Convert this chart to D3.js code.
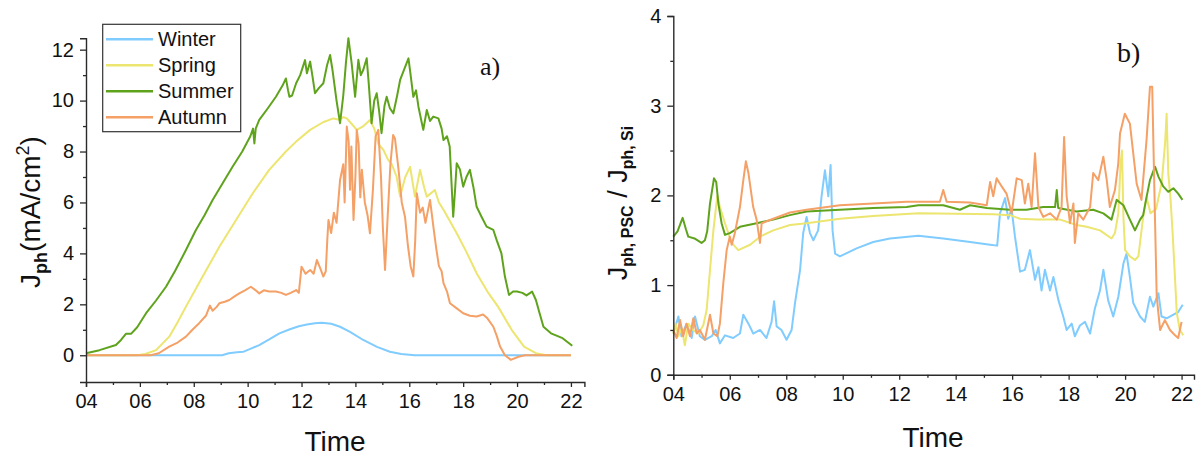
<!DOCTYPE html>
<html><head><meta charset="utf-8">
<script src="https://cdn.jsdelivr.net/npm/d3@7"></script>
<style>
html,body{margin:0;padding:0;background:#fff;}
svg{display:block;}
text{font-family:"Liberation Sans",Arial,sans-serif;fill:#111;}
</style></head>
<body>
<script>
// ---------- DATA ----------
const seriesNames = ["Winter","Spring","Summer","Autumn"];
const seriesColors = ["#80ccff","#ece56f","#5fa31d","#f4a066"];
const xTickHours = [4,6,8,10,12,14,16,18,20,22];
const xMinorHours = [5,7,9,11,13,15,17,19,21];
const yTicksA = [0,2,4,6,8,10,12];
const yMinorA = [1,3,5,7,9,11];
const yTicksB = [0,1,2,3,4];
const yMinorB = [0.5,1.5,2.5,3.5];

// Panel a) : J_ph (mA/cm2) vs time  [hour, value]
const winterA = [[4,0],[9.05,0],[9.3,0.08],[9.6,0.12],[9.85,0.14],[10.1,0.25],[10.43,0.4],[10.8,0.62],[11.18,0.86],[11.57,1.02],[11.9,1.14],[12.2,1.21],[12.5,1.26],[12.75,1.28],[13.1,1.24],[13.43,1.12],[13.8,0.92],[14.29,0.6],[14.8,0.33],[15.28,0.14],[15.7,0.05],[16.2,0],[22,0]];
const springA = [[4,0],[5.9,0],[6.2,0.05],[6.6,0.2],[7.09,0.73],[7.4,1.3],[7.71,1.91],[8.33,3.09],[8.95,4.26],[9.57,5.31],[10.19,6.36],[10.8,7.28],[11.42,8.0],[11.8,8.39],[12.32,8.85],[12.8,9.15],[13.18,9.3],[13.4,9.25],[13.55,9.35],[13.68,9.3],[13.85,9.1],[14.05,8.85],[14.3,9.0],[14.54,9.24],[14.7,8.9],[14.85,8.3],[15.04,8.06],[15.2,7.7],[15.35,7.5],[15.53,7.01],[15.66,6.23],[15.85,7.0],[16.03,7.4],[16.21,6.23],[16.4,7.28],[16.55,6.6],[16.65,6.23],[16.95,6.49],[17.1,6.0],[17.27,5.71],[17.76,4.79],[18.1,4.1],[18.5,3.22],[18.9,2.5],[19.3,1.9],[19.8,1.0],[20.26,0.34],[20.7,0.08],[21.1,0],[22,0]];
const summerA = [[4,0.08],[4.5,0.2],[5.11,0.4],[5.3,0.6],[5.48,0.84],[5.67,0.84],[5.9,1.1],[6.23,1.65],[6.6,2.15],[6.97,2.69],[7.3,3.3],[7.71,4.13],[8.08,4.92],[8.4,5.5],[8.7,6.1],[9.1,6.8],[9.44,7.4],[9.8,8.0],[10.1,8.6],[10.2,8.9],[10.25,8.32],[10.3,8.9],[10.43,9.24],[10.75,9.7],[11.05,10.15],[11.3,10.6],[11.42,10.87],[11.5,10.4],[11.55,10.15],[11.65,10.2],[11.8,10.68],[11.95,11.0],[12.13,11.59],[12.2,11.07],[12.32,11.53],[12.4,11.0],[12.5,10.29],[12.65,10.5],[12.81,10.68],[12.95,11.4],[13.06,11.79],[13.15,11.2],[13.3,10.0],[13.43,9.11],[13.55,10.2],[13.65,11.5],[13.74,12.45],[13.86,11.47],[13.99,10.15],[14.11,11.6],[14.2,11.0],[14.29,11.2],[14.42,11.66],[14.5,10.6],[14.6,9.11],[14.7,10.0],[14.79,10.29],[14.88,9.6],[14.97,8.72],[15.08,9.8],[15.16,10.15],[15.28,9.7],[15.41,9.5],[15.55,10.2],[15.66,10.81],[15.8,11.2],[15.97,11.66],[16.05,11.0],[16.15,10.15],[16.25,10.4],[16.34,9.76],[16.45,9.2],[16.52,8.85],[16.65,9.63],[16.77,9.2],[16.89,9.37],[17.08,9.3],[17.2,8.9],[17.27,8.45],[17.4,8.6],[17.5,8.2],[17.63,5.44],[17.7,6.5],[17.76,7.54],[17.88,7.3],[18.0,6.62],[18.12,7.0],[18.25,7.28],[18.38,6.6],[18.5,5.83],[18.7,5.4],[18.87,5.05],[19.12,4.92],[19.25,4.5],[19.42,4.0],[19.55,3.09],[19.7,2.37],[19.85,2.5],[20.0,2.5],[20.2,2.45],[20.35,2.35],[20.56,2.5],[20.7,2.17],[20.85,1.6],[20.98,1.12],[21.26,0.86],[21.69,0.67],[22.05,0.37]];
const autumnA = [[4,0],[6.4,0],[6.7,0.08],[7.09,0.34],[7.4,0.5],[7.71,0.73],[7.95,1.0],[8.2,1.26],[8.45,1.55],[8.6,1.95],[8.7,1.75],[8.85,1.9],[8.95,2.04],[9.15,2.1],[9.32,2.17],[9.5,2.3],[9.69,2.43],[9.9,2.55],[10.12,2.69],[10.3,2.55],[10.43,2.43],[10.6,2.55],[10.8,2.5],[11.05,2.5],[11.25,2.45],[11.42,2.37],[11.6,2.45],[11.8,2.56],[11.9,2.45],[12.0,3.48],[12.15,3.2],[12.32,3.35],[12.45,3.2],[12.57,3.74],[12.7,3.4],[12.81,3.09],[12.9,3.3],[12.96,4.6],[13.0,5.31],[13.1,4.8],[13.2,5.6],[13.3,5.2],[13.43,6.88],[13.55,7.5],[13.6,6.0],[13.68,8.98],[13.75,8.4],[13.8,6.5],[13.85,8.2],[13.93,5.31],[14.0,7.0],[14.05,8.85],[14.12,8.3],[14.18,6.2],[14.24,7.28],[14.35,6.0],[14.45,5.5],[14.54,4.79],[14.65,6.5],[14.75,8.6],[14.85,8.85],[14.95,7.0],[15.02,5.0],[15.1,3.35],[15.2,5.5],[15.3,7.5],[15.4,8.65],[15.47,8.5],[15.6,7.3],[15.72,6.0],[15.84,5.44],[15.95,4.3],[16.05,3.5],[16.15,3.09],[16.22,4.5],[16.28,6.36],[16.4,5.6],[16.5,5.8],[16.6,5.2],[16.77,6.1],[16.9,5.0],[17.0,4.2],[17.1,3.5],[17.2,3.3],[17.27,2.83],[17.4,2.5],[17.51,2.04],[17.75,1.85],[18.0,1.65],[18.25,1.55],[18.5,1.52],[18.74,1.6],[18.9,1.45],[19.12,1.12],[19.25,0.75],[19.37,0.34],[19.55,0.0],[19.77,-0.18],[20.05,-0.06],[20.3,0],[22,0]];

// Panel b) : J_ph,PSC / J_ph,Si vs time  [hour, ratio]
const winterB = [[4.0,0.46],[4.18,0.65],[4.29,0.43],[4.47,0.57],[4.65,0.41],[4.77,0.65],[4.94,0.43],[5.12,0.39],[5.36,0.43],[5.5,0.5],[5.65,0.35],[5.83,0.44],[6.12,0.41],[6.36,0.46],[6.48,0.67],[6.66,0.57],[6.83,0.46],[7.07,0.5],[7.3,0.41],[7.48,0.59],[7.57,0.82],[7.66,0.54],[7.83,0.5],[8.01,0.39],[8.19,0.5],[8.31,0.8],[8.49,1.17],[8.6,1.58],[8.72,1.76],[8.84,1.58],[8.96,1.5],[9.13,1.61],[9.25,1.99],[9.37,2.28],[9.49,1.99],[9.57,2.34],[9.64,1.61],[9.73,1.35],[9.9,1.32],[10.49,1.41],[11.08,1.48],[11.67,1.52],[12.68,1.55],[13.56,1.52],[14.51,1.48],[15.22,1.45],[15.47,1.44],[15.57,1.8],[15.75,1.97],[15.86,1.74],[15.98,1.85],[16.1,1.54],[16.28,1.15],[16.45,1.17],[16.63,1.39],[16.81,1.06],[16.93,1.2],[17.04,0.94],[17.16,1.17],[17.34,0.94],[17.46,1.09],[17.64,0.83],[17.81,0.65],[17.93,0.5],[18.11,0.57],[18.22,0.43],[18.4,0.55],[18.58,0.59],[18.76,0.46],[18.93,0.74],[19.11,0.94],[19.23,1.17],[19.4,0.83],[19.58,0.65],[19.76,0.87],[19.94,1.24],[20.05,1.35],[20.17,1.09],[20.29,0.8],[20.53,0.65],[20.7,0.59],[20.88,0.87],[21.0,0.76],[21.18,0.91],[21.29,0.65],[21.47,0.63],[21.71,0.67],[21.88,0.7],[22.04,0.78]];
const springB = [[4.0,0.46],[4.08,0.57],[4.18,0.43],[4.3,0.52],[4.41,0.33],[4.53,0.57],[4.7,0.5],[4.88,0.46],[5.06,0.55],[5.18,0.72],[5.3,1.17],[5.42,1.61],[5.56,2.0],[5.65,1.87],[5.83,1.69],[6.07,1.47],[6.3,1.39],[6.72,1.45],[7.07,1.54],[7.54,1.61],[8.13,1.67],[8.72,1.69],[9.9,1.74],[11.08,1.77],[12.68,1.8],[15.33,1.79],[15.92,1.78],[16.28,1.74],[16.87,1.73],[17.7,1.73],[18.28,1.67],[18.64,1.65],[19.11,1.61],[19.52,1.52],[19.64,1.58],[19.76,1.8],[19.84,2.36],[19.89,2.5],[19.94,1.76],[20.0,1.39],[20.17,1.32],[20.35,1.28],[20.47,1.32],[20.64,1.76],[20.76,1.98],[20.9,1.8],[21.1,1.85],[21.3,2.15],[21.42,2.6],[21.47,2.91],[21.53,2.24],[21.6,2.0],[21.68,1.6],[21.77,1.06],[21.83,0.69],[21.94,0.5],[22.06,0.44]];
const summerB = [[4.0,1.54],[4.15,1.6],[4.33,1.75],[4.45,1.62],[4.53,1.54],[4.75,1.52],[5.0,1.47],[5.12,1.5],[5.2,1.6],[5.3,1.91],[5.44,2.19],[5.52,2.15],[5.6,1.9],[5.71,1.69],[5.83,1.56],[6.0,1.58],[6.36,1.65],[6.95,1.69],[7.54,1.73],[8.13,1.78],[8.72,1.82],[9.9,1.84],[11.08,1.86],[12.26,1.87],[12.68,1.89],[13.56,1.89],[14.15,1.84],[14.51,1.89],[15.1,1.86],[15.92,1.84],[16.51,1.84],[17.1,1.87],[17.52,1.87],[17.58,2.06],[17.63,1.86],[18.28,1.82],[18.87,1.84],[19.23,1.8],[19.52,1.73],[19.7,1.95],[19.94,1.89],[20.17,1.73],[20.35,1.61],[20.53,1.73],[20.64,1.78],[20.74,1.95],[20.88,2.17],[21.06,2.32],[21.18,2.21],[21.35,2.1],[21.53,2.04],[21.71,2.08],[21.88,2.02],[22.03,1.95]];
const autumnB = [[4.0,0.5],[4.12,0.41],[4.24,0.61],[4.35,0.43],[4.47,0.57],[4.59,0.43],[4.71,0.63],[4.83,0.46],[4.94,0.5],[5.12,0.39],[5.3,0.67],[5.42,0.46],[5.56,0.43],[5.65,0.57],[5.77,1.02],[5.89,1.39],[6.0,1.54],[6.07,1.45],[6.18,1.58],[6.36,1.87],[6.48,2.17],[6.57,2.38],[6.66,2.25],[6.83,1.87],[6.95,1.73],[7.07,1.47],[7.13,1.69],[7.54,1.74],[8.13,1.81],[8.72,1.84],[9.9,1.89],[11.08,1.91],[12.26,1.93],[13.44,1.93],[13.56,2.06],[13.68,1.93],[14.5,1.92],[15.1,1.89],[15.22,2.15],[15.33,1.99],[15.45,2.19],[15.63,2.1],[15.8,2.02],[15.98,1.8],[16.16,2.19],[16.34,2.17],[16.45,1.91],[16.57,2.13],[16.69,1.87],[16.81,2.47],[16.93,1.87],[17.1,1.76],[17.34,1.8],[17.58,1.73],[17.75,1.87],[17.84,2.65],[17.93,1.99],[18.05,1.69],[18.17,1.91],[18.22,1.47],[18.34,1.8],[18.52,1.73],[18.76,1.87],[18.87,2.25],[19.05,2.17],[19.23,2.43],[19.35,2.17],[19.46,1.87],[19.64,2.06],[19.76,2.36],[19.82,2.69],[19.99,2.91],[20.17,2.8],[20.41,2.13],[20.58,1.95],[20.76,2.62],[20.88,3.21],[20.96,3.21],[21.06,1.72],[21.12,0.87],[21.24,0.5],[21.41,0.61],[21.59,0.5],[21.77,0.44],[21.88,0.41],[22.0,0.59]];

// ---------- DRAW ----------
const W = 1201, H = 457;
const svg = d3.select("body").append("svg").attr("width", W).attr("height", H);
svg.append("rect").attr("width", W).attr("height", H).attr("fill", "#fff");

const fmtHour = d3.format("02d");

function drawPanel(opt) {
  const g = svg.append("g");
  const x = d3.scaleLinear().domain(opt.xDomain).range(opt.xRange);
  const y = d3.scaleLinear().domain(opt.yDomain).range(opt.yRange);

  const line = d3.line().x(d => x(d[0])).y(d => y(d[1]));
  opt.series.forEach((s, i) => {
    g.append("path").datum(s).attr("d", line)
      .attr("fill", "none").attr("stroke", seriesColors[i])
      .attr("stroke-width", 2).attr("stroke-linejoin", "round");
  });
  g.append("g").attr("transform", `translate(0,${opt.yRange[0]})`)
    .call(d3.axisBottom(x).tickValues(xTickHours).tickSize(5).tickPadding(7).tickFormat(fmtHour));
  g.append("g").attr("transform", `translate(0,${opt.yRange[0]})`)
    .call(d3.axisBottom(x).tickValues(xMinorHours).tickSize(3).tickFormat(""))
    .select(".domain").remove();
  g.append("g").attr("transform", `translate(${opt.xRange[0]},0)`)
    .call(d3.axisLeft(y).tickValues(opt.yTicks).tickSize(6).tickPadding(6).tickFormat(d3.format("d")));
  g.append("g").attr("transform", `translate(${opt.xRange[0]},0)`)
    .call(d3.axisLeft(y).tickValues(opt.yMinor).tickSize(3).tickFormat(""))
    .select(".domain").remove();
  g.selectAll(".domain").attr("stroke", "#2a2a2a").attr("stroke-width", 1.4);
  g.selectAll(".tick line").attr("stroke", "#2a2a2a").attr("stroke-width", 1.3);
  g.selectAll(".tick text").style("font-family", '"Liberation Sans",Arial,sans-serif')
    .style("font-size", "20px").attr("fill", "#111");
  return {g, x, y};
}

drawPanel({
  xDomain: [4, 22.5], xRange: [86, 584.4],
  yDomain: [-1.05, 12.45], yRange: [382, 38.2],
  yTicks: yTicksA, yMinor: yMinorA,
  series: [winterA, springA, summerA, autumnA]
});
drawPanel({
  xDomain: [4, 22.44], xRange: [673.3, 1194],
  yDomain: [0, 4], yRange: [374.8, 16],
  yTicks: yTicksB, yMinor: yMinorB,
  series: [winterB, springB, summerB, autumnB]
});

// axis titles
svg.append("text").attr("x", 335).attr("y", 451).attr("text-anchor", "middle")
  .style("font-size", "28px").text("Time");
svg.append("text").attr("x", 933).attr("y", 447).attr("text-anchor", "middle")
  .style("font-size", "28px").text("Time");

// left y title: J_ph(mA/cm^2)
const yl = svg.append("text").attr("transform", "translate(40,212) rotate(-90)")
  .attr("text-anchor", "middle").style("font-size", "28px");
yl.append("tspan").text("J");
yl.append("tspan").attr("dy", 7).style("font-size", "18px").style("font-weight", "bold").text("ph");
yl.append("tspan").attr("dy", -7).text("(mA/cm");
yl.append("tspan").attr("dy", -11).style("font-size", "18px").text("2");
yl.append("tspan").attr("dy", 11).text(")");

// right y title: J_ph,PSC / J_ph,Si
const yr = svg.append("text").attr("transform", "translate(627,203) rotate(-90)")
  .attr("text-anchor", "middle").style("font-size", "27px");
yr.append("tspan").text("J");
yr.append("tspan").attr("dy", 6).style("font-size", "16px").style("font-weight", "bold").text("ph, PSC");
yr.append("tspan").attr("dy", -6).text(" / J");
yr.append("tspan").attr("dy", 6).style("font-size", "16px").style("font-weight", "bold").text("ph, Si");

// panel labels
svg.append("text").attr("x", 480).attr("y", 75).style("font-family", '"Liberation Serif","Times New Roman",serif')
  .style("font-size", "26px").text("a)");
svg.append("text").attr("x", 1117).attr("y", 62).style("font-family", '"Liberation Serif","Times New Roman",serif')
  .style("font-size", "28px").text("b)");

// legend
const lg = svg.append("g");
lg.append("rect").attr("x", 102.7).attr("y", 24.3).attr("width", 138).attr("height", 107.4)
  .attr("fill", "#fff").attr("stroke", "#333").attr("stroke-width", 1.2);
const legY = d3.scalePoint().domain(seriesNames).range([39.3, 117.3]);
seriesNames.forEach((n, i) => {
  lg.append("line").attr("x1", 106).attr("x2", 153).attr("y1", legY(n)).attr("y2", legY(n))
    .attr("stroke", seriesColors[i]).attr("stroke-width", 2.5);
  lg.append("text").attr("x", 158).attr("y", legY(n) + 7).style("font-size", "20px").text(n);
});
</script>
</body></html>
